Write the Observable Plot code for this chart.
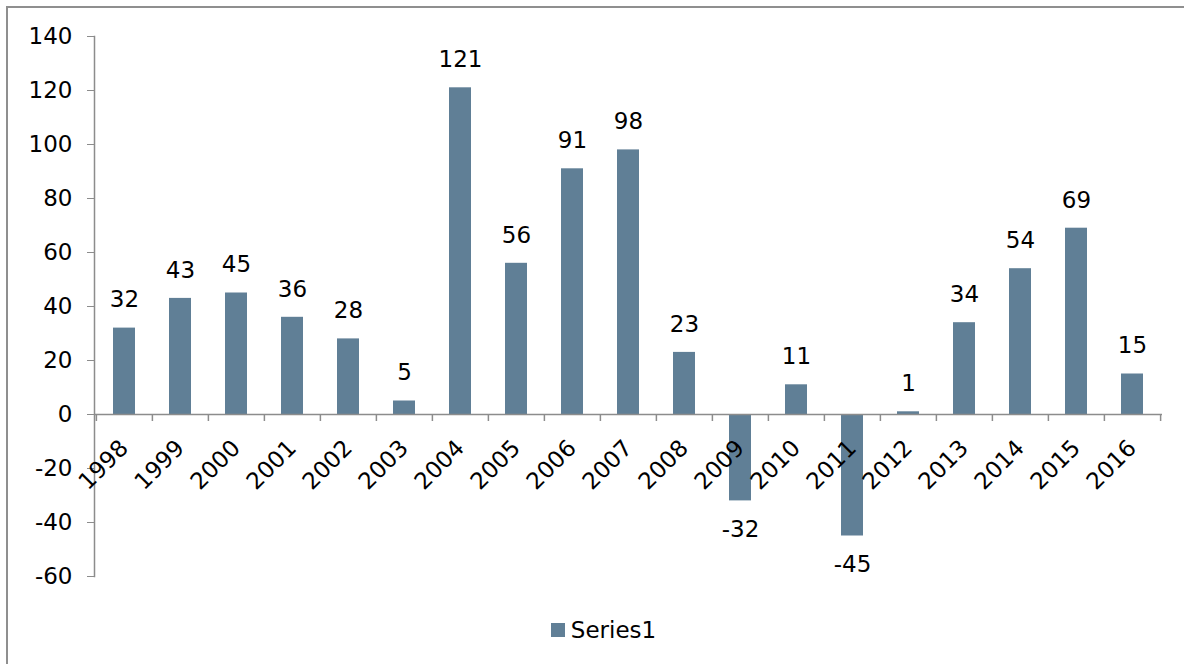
<!DOCTYPE html>
<html>
<head>
<meta charset="utf-8">
<script src="https://cdn.jsdelivr.net/npm/d3@7"></script>
<script src="https://cdn.jsdelivr.net/npm/@observablehq/plot@0.6"></script>
<style>
  html, body { margin: 0; padding: 0; background: #fff; overflow: hidden; }
  #wrap { position: relative; width: 1184px; height: 664px; font-family: "DejaVu Sans", sans-serif; }
  #border { position: absolute; left: 6px; top: 6px; width: 1200px; height: 700px; border: 2px solid #8f8f8f; box-sizing: border-box; pointer-events: none; }
  #legend { height: 36px; display: flex; align-items: center; justify-content: center; padding-left: 23px; font-size: 23px; color: #000; }
  #legend .sw { width: 14px; height: 14px; margin-right: 6px; }
</style>
</head>
<body>
<div id="wrap">
  <div id="chart"></div>
  <div id="legend"><span class="sw"></span><span class="lbl"></span></div>
  <div id="border"></div>
</div>
<script>
const years = ["1998","1999","2000","2001","2002","2003","2004","2005","2006","2007","2008","2009","2010","2011","2012","2013","2014","2015","2016"];
const values = [32, 43, 45, 36, 28, 5, 121, 56, 91, 98, 23, -32, 11, -45, 1, 34, 54, 69, 15];
const yTicks = [-60, -40, -20, 0, 20, 40, 60, 80, 100, 120, 140];
const seriesName = "Series1";

const barColor = "#607f96";
const axisColor = "#8c8c8c";
const W = 1184, H = 612;
const mL = 94, mR = 22, mT = 36, mB = 36;
const step = (W - mL - mR) / years.length;

const data = years.map((y, i) => ({year: y, value: values[i]}));

const chart = Plot.plot({
  width: W,
  height: H,
  marginLeft: mL,
  marginRight: mR,
  marginTop: mT,
  marginBottom: mB,
  style: {fontFamily: "DejaVu Sans, sans-serif", fontSize: "23px", color: "#000", background: "#fff", overflow: "visible"},
  x: {domain: years, type: "band", paddingInner: 0.6, paddingOuter: 0.3, axis: null},
  y: {domain: [-60, 140], axis: null},
  marks: [
    Plot.barY(data, {x: "year", y: "value", fill: barColor}),
    Plot.axisY({ticks: yTicks, tickSize: 7, tickPadding: 15, stroke: axisColor, fill: "#000", tickFormat: d => String(d), fontSize: 23, label: null}),
    Plot.frame({anchor: "left", stroke: axisColor, strokeWidth: 1.5}),
    Plot.ruleY([0], {stroke: axisColor, strokeWidth: 1.5}),
    Plot.ruleX(years, {x: d => d, y1: 0, y2: 0, insetBottom: -7, dx: -step / 2, stroke: axisColor, strokeWidth: 1.5}),
    Plot.ruleX(years.slice(-1), {x: d => d, y1: 0, y2: 0, insetBottom: -7, dx: step / 2, stroke: axisColor, strokeWidth: 1.5}),
    Plot.text(years, {x: d => d, y: () => 0, text: d => d, rotate: -45, textAnchor: "end", lineAnchor: "bottom", dx: 5, dy: 35, fill: "#000", fontSize: 23}),
    Plot.text(data, {x: "year", y: "value", text: d => String(d.value), dy: d => 0, lineAnchor: "middle", fill: "#000", fontSize: 23, filter: d => d.value >= 0, dy: -28}),
    Plot.text(data, {x: "year", y: "value", text: d => String(d.value), lineAnchor: "middle", fill: "#000", fontSize: 23, filter: d => d.value < 0, dy: 29})
  ]
});
document.getElementById("chart").appendChild(chart);
document.querySelector("#legend .sw").style.background = barColor;
document.querySelector("#legend .lbl").textContent = seriesName;
</script>
</body>
</html>
